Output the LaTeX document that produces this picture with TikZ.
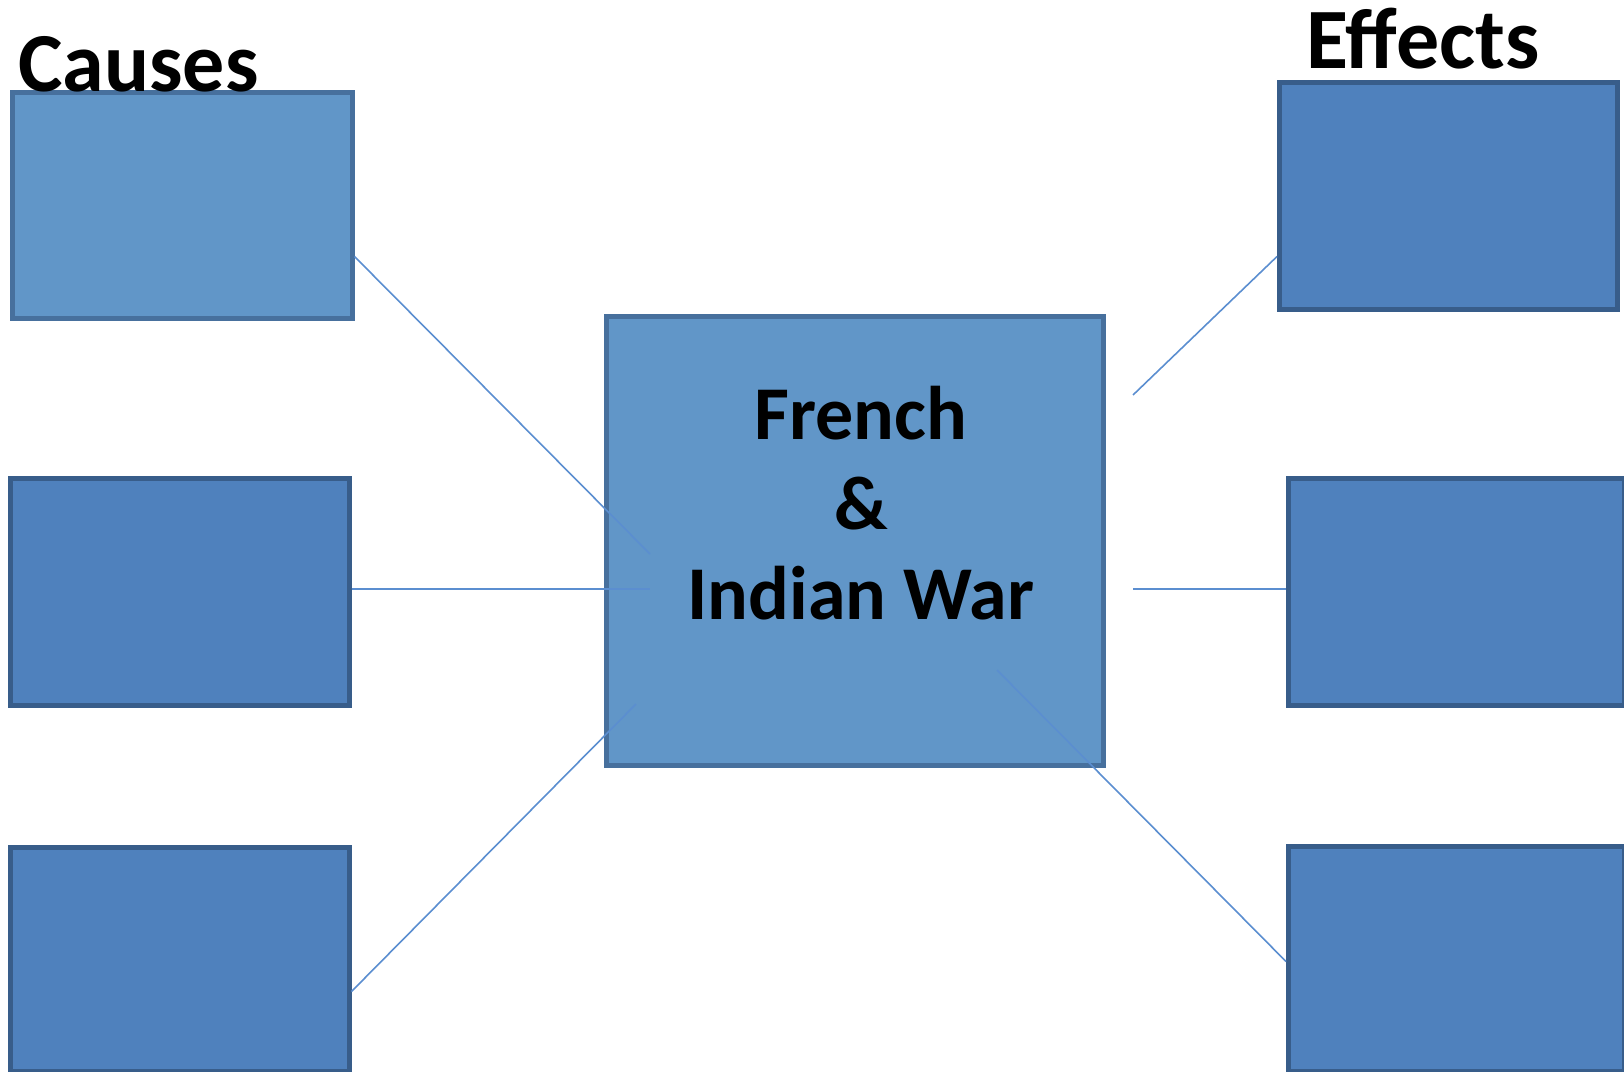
\documentclass[tikz,border=0pt]{standalone}
\usepackage{fontspec}
\setmainfont{Carlito}
\usetikzlibrary{calc}
\definecolor{lightfill}{HTML}{6196C8}
\definecolor{lightedge}{HTML}{47709D}
\definecolor{darkfill}{HTML}{4F81BD}
\definecolor{darkedge}{HTML}{385D8A}
\definecolor{linkcol}{HTML}{5B8ED0}
\tikzset{
  lightbox/.style={draw=lightedge, fill=lightfill, line width=4.5pt, rectangle, inner sep=0pt, anchor=north west},
  darkbox/.style={draw=darkedge, fill=darkfill, line width=4.5pt, rectangle, inner sep=0pt, anchor=north west},
  link/.style={draw=linkcol, line width=1.6pt},
  heading/.style={font=\bfseries\fontsize{86}{90}\selectfont, inner sep=0pt, anchor=base west},
  wartext/.style={font=\bfseries\fontsize{76}{90}\selectfont, align=center, inner sep=0pt, anchor=base}
}
\begin{document}
\begin{tikzpicture}[x=1pt,y=-1pt]
\useasboundingbox (0,0) rectangle (1624,1071);
% cause boxes
\node[lightbox, minimum width=340pt, minimum height=226pt] (c1) at (10,90) {};
\node[darkbox, minimum width=339pt, minimum height=227pt] (c2) at (8,476) {};
\node[darkbox, minimum width=339pt, minimum height=224pt] (c3) at (8,845) {};
% centre box
\node[lightbox, minimum width=497pt, minimum height=449pt] (war) at (604,314) {};
% effect boxes
\node[darkbox, minimum width=338pt, minimum height=227pt] (e1) at (1277,80) {};
\node[darkbox, minimum width=336pt, minimum height=227pt] (e2) at (1286,476) {};
\node[darkbox, minimum width=336pt, minimum height=225pt] (e3) at (1286,844) {};
% free ends of the connectors
\coordinate (p1) at (650,554);
\coordinate (p2) at (650,589);
\coordinate (p3) at (636,704);
\coordinate (q1) at (1133,395);
\coordinate (q2) at (1133,589);
\coordinate (q3) at (997,670);
% connectors
\draw[link] ($(c1.south east)+(0,-64)$) -- (p1);
\draw[link] (c2.east |- p2) -- (p2);
\draw[link] ($(c3.south east)+(0,-82)$) -- (p3);
\draw[link] ($(e1.south west)+(0,-55)$) -- (q1);
\draw[link] (q2) -- (e2.west |- q2);
\draw[link] (q3) -- ($(e3.south west)+(0,-112)$);
% texts
\node[heading, font=\bfseries\fontsize{84}{90}\selectfont] (causes) at (18,91) {Causes};
\node[heading] (effects) at (1306,68) {Effects};
\node[wartext] (wartitle) at (861,619) {French\\\&\\Indian War};
\end{tikzpicture}
\end{document}
